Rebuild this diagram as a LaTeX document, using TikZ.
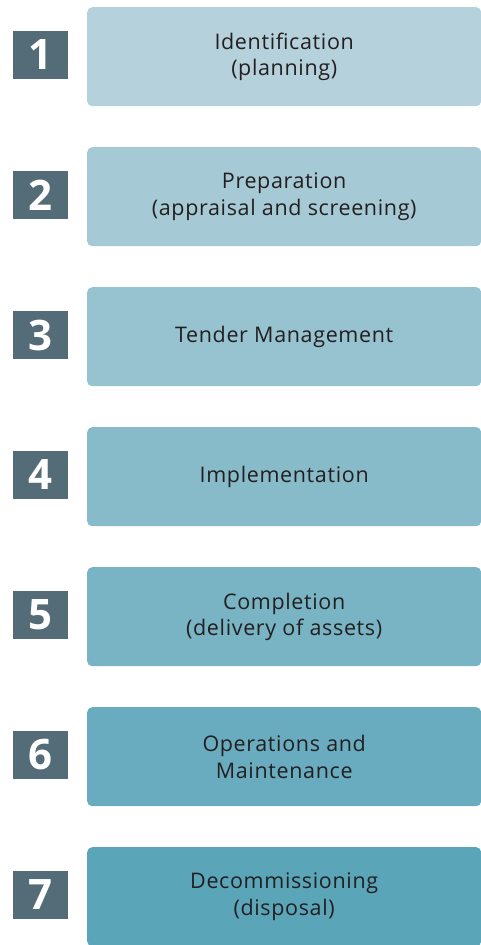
\documentclass[tikz,border=0pt]{standalone}
\usepackage{fontspec}
\setmainfont{Open Sans}
\newfontfamily\stagefont[LetterSpace=3]{Open Sans}
\definecolor{numcol}{RGB}{84,108,120}
\definecolor{c1}{RGB}{181,209,219}
\definecolor{c7}{RGB}{91,165,185}
\definecolor{txt}{RGB}{35,31,32}
\begin{document}
\begin{tikzpicture}[x=1pt,y=-1pt,
  stagebox/.style={fill=#1, rounded corners=5pt, minimum width=394pt, minimum height=99pt, anchor=north west, inner sep=0pt, font=\stagefont\fontsize{21.5}{26.5}\selectfont, text=txt, align=center},
  numbox/.style={fill=numcol, minimum width=55pt, minimum height=48pt, inner sep=0pt, text=white, font=\fontsize{42}{42}\selectfont\bfseries}]
\useasboundingbox (0,0) rectangle (480,945);
\foreach \i/\t [count=\k from 0] in {1/{Identification\\(planning)},2/{Preparation\\(appraisal and screening)},3/{Tender Management},4/{Implementation},5/{Completion\\(delivery of assets)},6/{Operations and\\Maintenance},7/{Decommissioning\\(disposal)}}{
  \pgfmathsetmacro{\pct}{100-100*\k/6}
  \colorlet{cc}{c1!\pct!c7}
  \node[stagebox=cc] (s\i) at (87,{7+140*\k}) {\t};
  \node[numbox] (n\i) at (40.5,{55+140*\k}) {\i};
}
\end{tikzpicture}
\end{document}
